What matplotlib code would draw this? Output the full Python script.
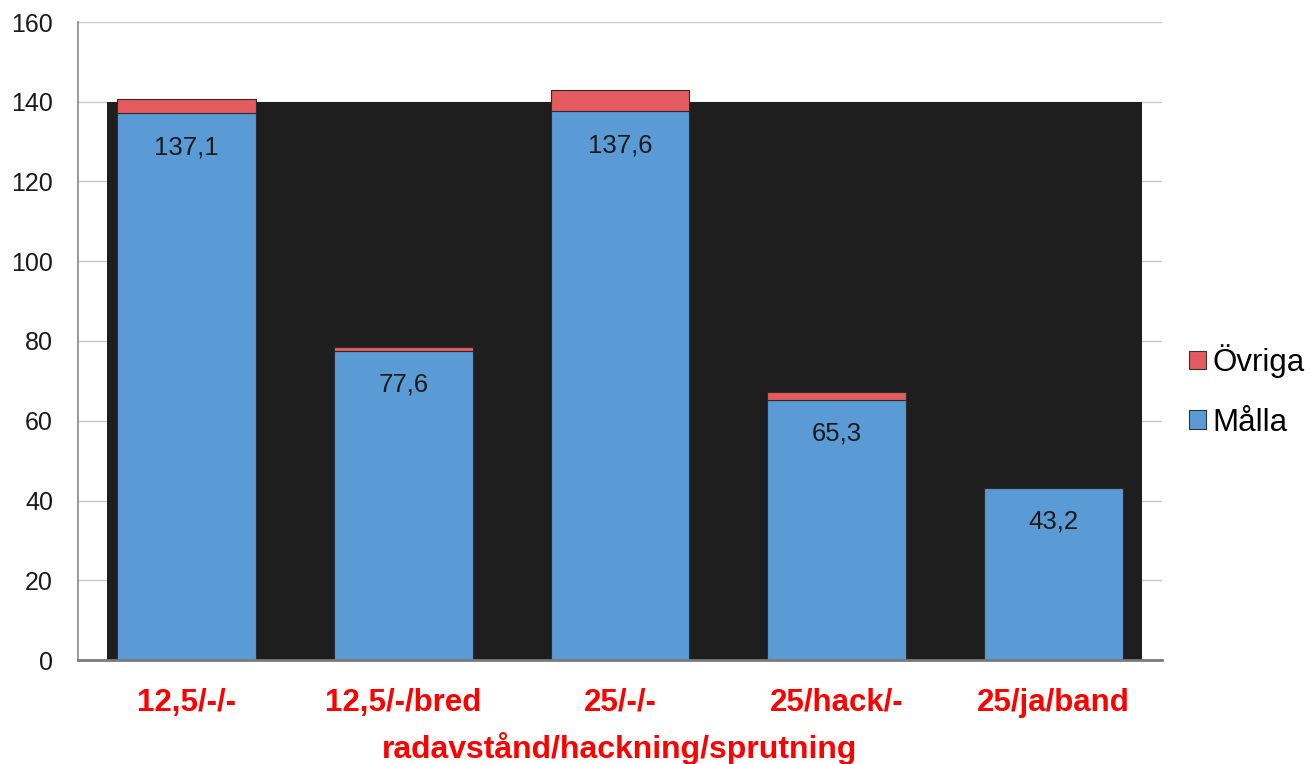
import matplotlib
matplotlib.use("Agg")
import matplotlib.pyplot as plt
from matplotlib.patches import Rectangle, Patch

plt.rcParams['font.family'] = ['Liberation Sans', 'DejaVu Sans']

categories = ["12,5/-/-", "12,5/-/bred", "25/-/-", "25/hack/-", "25/ja/band"]
malla = [137.1, 77.6, 137.6, 65.3, 43.2]
ovriga = [3.6, 0.9, 5.3, 1.9, 0.0]
value_labels = ["137,1", "77,6", "137,6", "65,3", "43,2"]
yticks = [0, 20, 40, 60, 80, 100, 120, 140, 160]

blue = "#5b9bd5"
red = "#e35b5e"

fig = plt.figure(figsize=(13.1, 7.64), dpi=100)
ax = fig.add_axes([78/1310, 104/764, (1162-78)/1310, (660-22)/764])

x = list(range(len(categories)))
ax.set_xlim(-0.5, 4.5)
ax.set_ylim(0, 160)

# gridlines
ax.set_yticks(yticks)
ax.yaxis.grid(True, color="#c8c8c8", linewidth=1.0, zorder=0)
ax.set_axisbelow(True)

# dark backdrop
ax.add_patch(Rectangle((-0.366, 0), 4.774, 140, facecolor="#1e1e1e",
                       edgecolor="none", zorder=1))

w = 0.64
ax.bar(x, malla, width=w, color=blue, edgecolor="#2b2b2b", linewidth=0.8, zorder=3)
ax.bar(x, ovriga, width=w, bottom=malla, color=red, edgecolor="#2b2b2b",
       linewidth=0.8, zorder=3)

for xi, v, lab in zip(x, malla, value_labels):
    ax.annotate(lab, (xi, v), xytext=(0, -34), textcoords="offset pixels",
                ha="center", va="center", fontsize=18.5, color="#1a1a1a", zorder=4)

ax.set_xticks(x)
ax.set_xticklabels(categories, fontsize=22.5, fontweight="bold", color="#ff0000")
ax.tick_params(axis="x", length=0, pad=20)
ax.tick_params(axis="y", length=0, pad=18, labelsize=18, labelcolor="#1a1a1a")
ax.set_xlabel("radavstånd/hackning/sprutning", fontsize=23, fontweight="bold",
              color="#ff0000", labelpad=10)

for s in ["top", "right"]:
    ax.spines[s].set_visible(False)
ax.spines["left"].set_color("#8a8a8a")
ax.spines["left"].set_linewidth(1.2)
ax.spines["bottom"].set_color("#7a7a7a")
ax.spines["bottom"].set_linewidth(2.0)
ax.spines["bottom"].set_zorder(5)

handles = [Patch(facecolor=red, edgecolor="#333333", linewidth=0.8),
           Patch(facecolor=blue, edgecolor="#333333", linewidth=0.8)]
fig.legend(handles, ["Övriga", "Målla"], loc="center left",
           bbox_to_anchor=(1189/1310, 1 - 391/764), frameon=False,
           fontsize=22.5, handlelength=0.55, handleheight=0.55,
           handletextpad=0.2, labelspacing=0.95, borderpad=0, borderaxespad=0)

fig.savefig("out.png", dpi=100)
